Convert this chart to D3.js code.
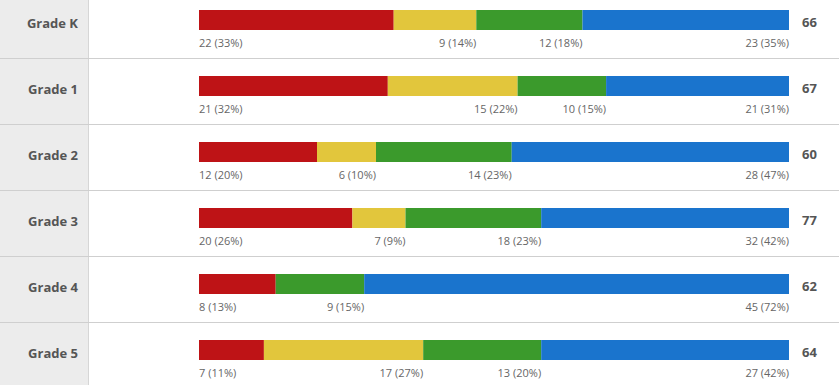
<!DOCTYPE html>
<html>
<head>
<meta charset="utf-8">
<title>Grades stacked bars</title>
<script src="https://d3js.org/d3.v7.min.js"></script>
<style>
  body { margin: 0; background: #fff; font-family: "Open Sans", sans-serif; }
  svg { display: block; }
</style>
</head>
<body>
<div id="home"></div>
<script>
// data
const grades = ["Grade K", "Grade 1", "Grade 2", "Grade 3", "Grade 4", "Grade 5"];
const counts = [
  [22, 9, 12, 23],
  [21, 15, 10, 21],
  [12, 6, 14, 28],
  [20, 7, 18, 32],
  [8, 0, 9, 45],
  [7, 17, 13, 27]
];
const pcts = [
  [33, 14, 18, 35],
  [32, 22, 15, 31],
  [20, 10, 23, 47],
  [26, 9, 23, 42],
  [13, 0, 15, 72],
  [11, 27, 20, 42]
];
const totals = [66, 67, 60, 77, 62, 64];
const colors = ["#be1316", "#e2c63c", "#3b9a2c", "#1a74cd"];

const w = 839, h = 385;
const svg = d3.select("#home").append("svg")
  .attr("width", w)
  .attr("height", h);

// left label column
svg.append("rect")
  .attr("x", 0).attr("y", 0)
  .attr("width", 88).attr("height", h)
  .style("fill", "#ececec");
svg.append("line")
  .attr("x1", 88.5).attr("x2", 88.5)
  .attr("y1", 0).attr("y2", h)
  .style("stroke", "#d6d6d6");

const yScale = d3.scaleBand()
  .domain(grades)
  .range([-8, -8 + 66 * grades.length]);

const xScale = d3.scaleLinear()
  .domain([0, 100])
  .range([199, 789]);

const rows = svg.selectAll("g.row")
  .data(grades)
  .enter()
  .append("g")
  .attr("class", "row")
  .attr("transform", d => "translate(0," + yScale(d) + ")");

// separators under each row
rows.filter((d, i) => i < grades.length - 1)
  .append("line")
  .attr("x1", 0).attr("x2", w)
  .attr("y1", 66.5).attr("y2", 66.5)
  .style("stroke", "#cfcfcf");

rows.append("text")
  .attr("x", 78)
  .attr("y", 35.5)
  .attr("text-anchor", "end")
  .style("font-size", "13px")
  .style("font-weight", "bold")
  .style("fill", "#555")
  .text(d => d);

rows.each(function(g, i) {
  const row = d3.select(this);
  let acc = 0;
  const segs = pcts[i].map((p, j) => {
    const s = { start: acc, end: acc + p, n: counts[i][j], p: p, j: j };
    acc += p;
    return s;
  });

  row.selectAll("rect.seg")
    .data(segs.filter(s => s.p > 0))
    .enter()
    .append("rect")
    .attr("class", "seg")
    .attr("x", s => xScale(s.start))
    .attr("y", 18)
    .attr("width", s => xScale(s.end) - xScale(s.start))
    .attr("height", 20)
    .style("fill", s => colors[s.j]);

  row.selectAll("text.val")
    .data(segs.filter(s => s.p > 0))
    .enter()
    .append("text")
    .attr("class", "val")
    .attr("x", s => s.j === 0 ? xScale(0) : xScale(s.end))
    .attr("y", 55)
    .attr("text-anchor", s => s.j === 0 ? "start" : "end")
    .style("font-size", "11px")
    .style("fill", "#666")
    .text(s => s.n + " (" + s.p + "%)");

  row.append("text")
    .attr("x", 802)
    .attr("y", 34.5)
    .style("font-size", "13px")
    .style("font-weight", "bold")
    .style("fill", "#555")
    .text(totals[i]);
});
</script>
</body>
</html>
